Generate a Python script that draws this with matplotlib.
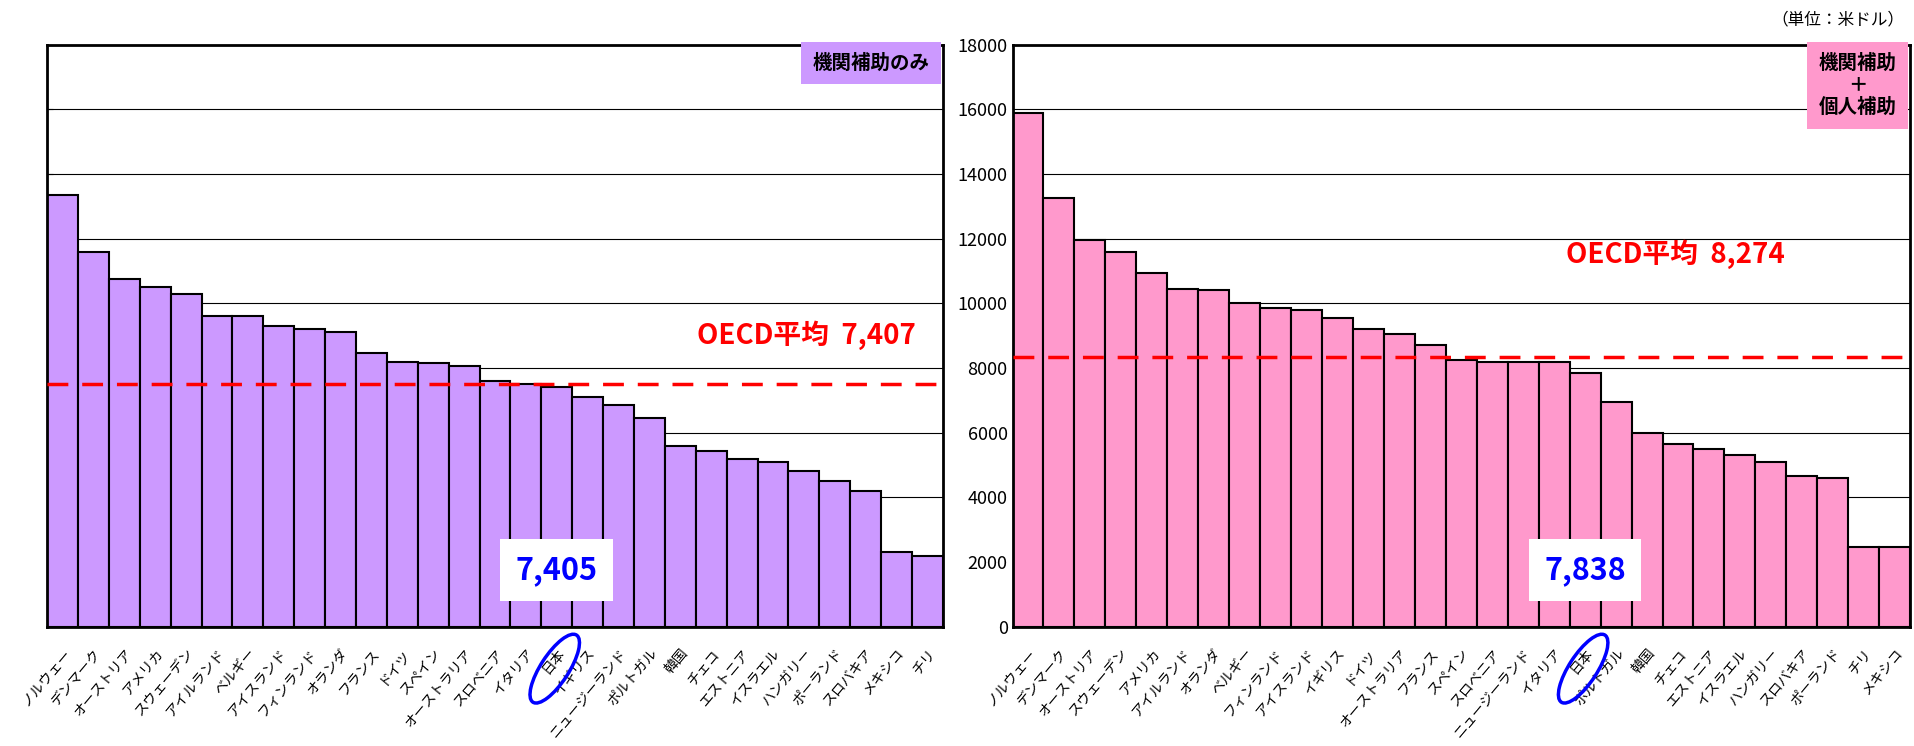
import matplotlib
matplotlib.use("Agg")
import matplotlib.pyplot as plt
from matplotlib.patches import Ellipse
from matplotlib.transforms import ScaledTranslation

plt.rcParams['font.family'] = ['Noto Sans CJK JP', 'DejaVu Sans']

# left: 機関補助のみ
left_countries = ["ノルウェー", "デンマーク", "オーストリア", "アメリカ", "スウェーデン", "アイルランド",
                  "ベルギー", "アイスランド", "フィンランド", "オランダ", "フランス", "ドイツ", "スペイン",
                  "オーストラリア", "スロベニア", "イタリア", "日本", "イギリス", "ニュージーランド",
                  "ポルトガル", "韓国", "チェコ", "エストニア", "イスラエル", "ハンガリー", "ポーランド",
                  "スロバキア", "メキシコ", "チリ"]
left_values = [13350, 11600, 10750, 10500, 10300, 9600, 9600, 9300, 9200, 9100, 8450, 8200, 8150,
               8050, 7600, 7500, 7405, 7100, 6870, 6450, 5600, 5430, 5200, 5100, 4800, 4500,
               4200, 2300, 2200]
left_avg = 7407

# right: 機関補助 + 個人補助
right_countries = ["ノルウェー", "デンマーク", "オーストリア", "スウェーデン", "アメリカ", "アイルランド",
                   "オランダ", "ベルギー", "フィンランド", "アイスランド", "イギリス", "ドイツ",
                   "オーストラリア", "フランス", "スペイン", "スロベニア", "ニュージーランド", "イタリア",
                   "日本", "ポルトガル", "韓国", "チェコ", "エストニア", "イスラエル", "ハンガリー",
                   "スロバキア", "ポーランド", "チリ", "メキシコ"]
right_values = [15900, 13250, 11950, 11600, 10950, 10450, 10400, 10000, 9850, 9800, 9550, 9200,
                9050, 8700, 8250, 8200, 8200, 8200, 7838, 6950, 6000, 5650, 5500, 5300, 5100,
                4650, 4600, 2450, 2450]
right_avg = 8274

fig = plt.figure(figsize=(19.14, 7.46), dpi=100)
axL = fig.add_axes([0.0246, 0.16, 0.468, 0.78])
axR = fig.add_axes([0.529, 0.16, 0.469, 0.78])


def draw(ax, countries, values, avg, color, japan_label, avg_y, avg_text_pos, box_text, ticks):
    x = range(len(values))
    ax.bar(x, values, width=1.0, color=color, edgecolor='black', linewidth=1.5, zorder=2)
    ax.set_xlim(-0.5, len(values) - 0.5)
    ax.set_ylim(0, 18000)
    ax.set_yticks(range(0, 18001, 2000))
    ax.grid(axis='y', color='black', linewidth=0.8, zorder=0)
    ax.set_axisbelow(True)
    if ticks:
        ax.tick_params(axis='y', labelsize=13, length=0)
    else:
        ax.set_yticklabels([])
        ax.tick_params(axis='y', length=4, direction='in')
    for s in ax.spines.values():
        s.set_linewidth(2)
    ax.set_xticks(list(x))
    ax.set_xticklabels(countries, rotation=50, ha='right', rotation_mode='anchor', fontsize=10)
    ax.tick_params(axis='x', length=0, pad=14)
    ax.axhline(avg_y, color='red', linestyle='--', linewidth=2.5, dashes=(6, 4), zorder=3)
    ax.text(avg_text_pos[0], avg_text_pos[1], f"OECD平均  {avg:,}", color='red', fontsize=20,
            fontweight='bold', transform=ax.transAxes, ha='right', va='center')
    j = countries.index("日本")
    ax.text(j, 1750, japan_label, color='blue', fontsize=22, fontweight='bold', ha='center',
            va='center', zorder=5,
            bbox=dict(facecolor='white', edgecolor='none', boxstyle='square,pad=0.5'))
    ax.text(0.985, 0.985, box_text, transform=ax.transAxes, fontsize=14,
            fontweight='bold', ha='right', va='top', ma='center', zorder=5,
            bbox=dict(facecolor=color, edgecolor='none', boxstyle='square,pad=0.6'))
    trans = fig.dpi_scale_trans + ScaledTranslation(j, 0, ax.transData)
    ell = Ellipse((-0.02, -0.42), 0.28, 0.8, angle=-33, fill=False, edgecolor='blue',
                  linewidth=2.5, clip_on=False, zorder=6, transform=trans)
    ax.add_patch(ell)


draw(axL, left_countries, left_values, left_avg, '#cc99ff', "7,405", 7500, (0.97, 0.50),
     "機関補助のみ", False)
draw(axR, right_countries, right_values, right_avg, '#ff99cc', "7,838", 8350, (0.86, 0.64),
     "機関補助\n＋\n個人補助", True)

fig.text(0.995, 0.985, "（単位：米ドル）", ha='right', va='top', fontsize=12)

fig.savefig("out.png")
